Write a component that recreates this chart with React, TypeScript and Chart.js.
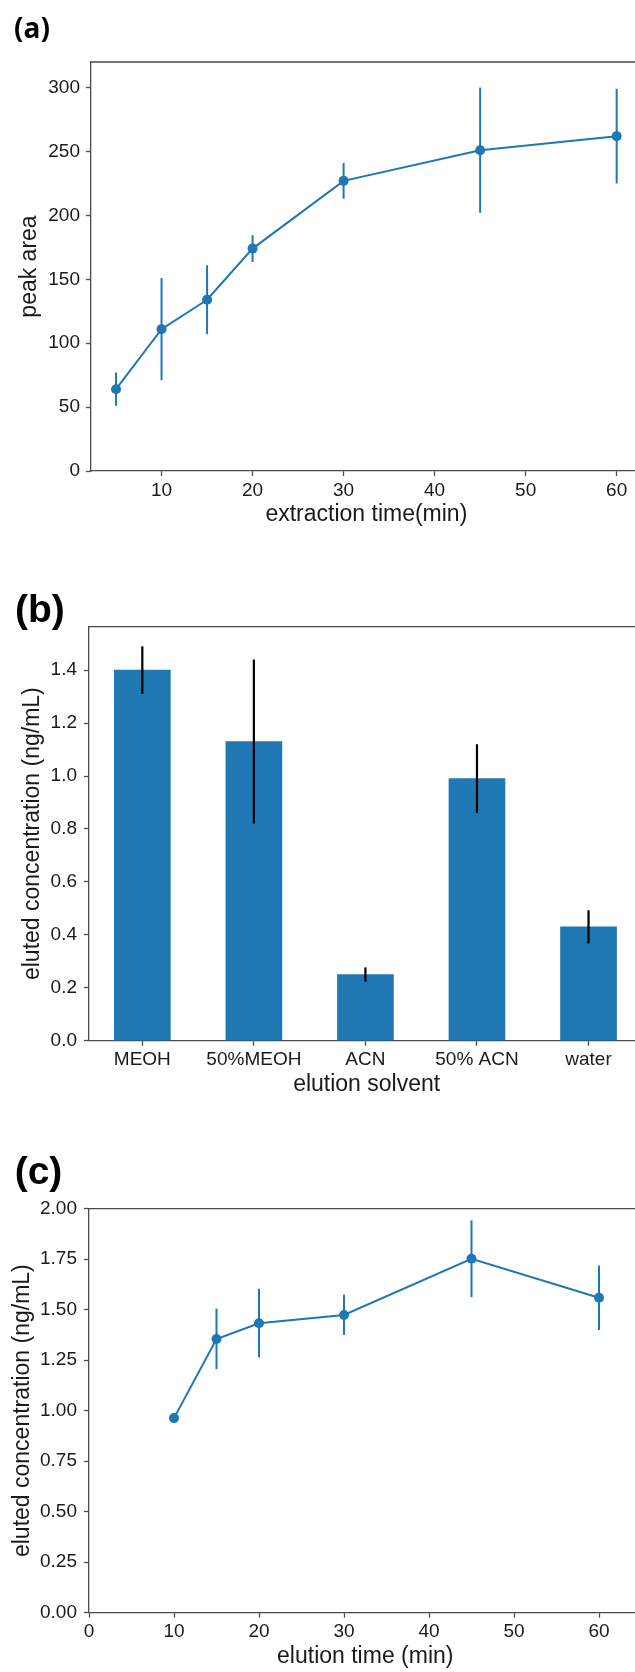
import React, { useEffect, useRef } from "react";
import { Chart, registerables } from "chart.js";

Chart.register(...registerables);

// ---------- data ----------
const extractionTime = [5, 10, 15, 20, 30, 45, 60];
const peakArea = [64, 111, 134, 174, 227, 251, 262];
const peakAreaErr = [13, 40, 27, 10.5, 14, 49, 37];

const solvents = ["MEOH", "50%MEOH", "ACN", "50% ACN", "water"];
const solventConc = [1.4, 1.13, 0.25, 0.99, 0.43];
const solventConcErr = [0.09, 0.31, 0.027, 0.13, 0.063];

const elutionTime = [10, 15, 20, 30, 45, 60];
const elutionConc = [0.963, 1.355, 1.433, 1.474, 1.752, 1.559];
const elutionConcErr = [0, 0.15, 0.17, 0.1, 0.19, 0.16];

const ticksAX = [10, 20, 30, 40, 50, 60];
const ticksAY = [0, 50, 100, 150, 200, 250, 300];
const ticksBY = [0, 0.2, 0.4, 0.6, 0.8, 1.0, 1.2, 1.4];
const ticksCX = [0, 10, 20, 30, 40, 50, 60];
const ticksCY = [0, 0.25, 0.5, 0.75, 1.0, 1.25, 1.5, 1.75, 2.0];

// ---------- style ----------
const BLUE = "#1f77b4";
const SPINE = "#4a4a4a";
const TXT = "#1a1a1a";
const FONT = "'Liberation Sans', Arial, sans-serif";
const CANVAS_W = 660;

const framePlugin = {
  id: "frame",
  afterDraw(chart: any) {
    const { ctx, chartArea } = chart;
    ctx.save();
    ctx.strokeStyle = SPINE;
    ctx.lineWidth = 1.3;
    ctx.beginPath();
    ctx.moveTo(chartArea.left, chartArea.top);
    ctx.lineTo(chartArea.right, chartArea.top);
    ctx.lineTo(chartArea.right, chartArea.bottom);
    ctx.stroke();
    ctx.restore();
  },
};

const errorBarPlugin = {
  id: "errorBars",
  afterDatasetsDraw(chart: any, _args: any, opts: any) {
    if (!opts || !opts.errors) return;
    const { ctx } = chart;
    const xs = chart.scales.x;
    const ys = chart.scales.y;
    const xv: number[] = opts.xValues;
    const yv: number[] = opts.yValues;
    const ev: number[] = opts.errors;
    ctx.save();
    ctx.strokeStyle = opts.color;
    ctx.lineWidth = opts.width;
    for (let i = 0; i < xv.length; i++) {
      if (!ev[i]) continue;
      const px = xs.getPixelForValue(xv[i]);
      const top = ys.getPixelForValue(yv[i] + ev[i]);
      const bot = ys.getPixelForValue(yv[i] - ev[i]);
      ctx.beginPath();
      ctx.moveTo(px, top);
      ctx.lineTo(px, bot);
      ctx.stroke();
    }
    ctx.restore();
  },
};

function xAxis(
  min: number,
  max: number,
  ticks: number[],
  title: string,
  fmt: (v: number) => string,
  titlePadBottom: number
) {
  return {
    type: "linear",
    position: "bottom",
    min,
    max,
    offset: false,
    afterBuildTicks: (s: any) => {
      s.ticks = ticks.map((v) => ({ value: v }));
    },
    afterFit: (s: any) => {
      s.height = 58;
    },
    grid: {
      offset: false,
      drawOnChartArea: false,
      drawTicks: true,
      tickLength: 5,
      tickColor: SPINE,
      tickWidth: 1.3,
    },
    border: { display: true, color: SPINE, width: 1.3 },
    ticks: {
      padding: 3,
      color: TXT,
      font: { family: FONT, size: 19 },
      maxRotation: 0,
      autoSkip: false,
      callback: (v: any) => fmt(Number(v)),
    },
    title: {
      display: true,
      text: title,
      color: TXT,
      font: { family: FONT, size: 23 },
      padding: { top: 0, bottom: titlePadBottom },
    },
  };
}

function yAxis(
  min: number,
  max: number,
  ticks: number[],
  title: string,
  fmt: (v: number) => string,
  width: number,
  titleCenter: number,
  tickPad: number
) {
  return {
    type: "linear",
    position: "left",
    min,
    max,
    afterBuildTicks: (s: any) => {
      s.ticks = ticks.map((v) => ({ value: v }));
    },
    afterFit: (s: any) => {
      s.width = width;
    },
    grid: {
      offset: false,
      drawOnChartArea: false,
      drawTicks: true,
      tickLength: 5,
      tickColor: SPINE,
      tickWidth: 1.3,
    },
    border: { display: true, color: SPINE, width: 1.3 },
    ticks: {
      padding: tickPad,
      color: TXT,
      font: { family: FONT, size: 19 },
      autoSkip: false,
      callback: (v: any) => fmt(Number(v)),
    },
    title: {
      display: true,
      text: title,
      color: TXT,
      font: { family: FONT, size: 23 },
      padding: { top: titleCenter - 13.8, bottom: 0 },
    },
  };
}

function useChart(ref: React.RefObject<HTMLCanvasElement>, make: () => any) {
  useEffect(() => {
    if (!ref.current) return;
    const chart = new Chart(ref.current, make());
    return () => chart.destroy();
  }, []);
}

const commonPlugins = {
  legend: { display: false },
  tooltip: { enabled: false },
};

export default function App() {
  const refA = useRef<HTMLCanvasElement>(null);
  const refB = useRef<HTMLCanvasElement>(null);
  const refC = useRef<HTMLCanvasElement>(null);

  useEffect(() => {
    document.body.style.margin = "0";
    document.body.style.overflow = "hidden";
  }, []);

  useChart(refA, () => ({
    type: "line",
    data: {
      datasets: [
        {
          data: extractionTime.map((x, i) => ({ x, y: peakArea[i] })),
          borderColor: BLUE,
          backgroundColor: BLUE,
          borderWidth: 2,
          pointRadius: 5,
          pointBorderWidth: 0,
          pointBackgroundColor: BLUE,
          tension: 0,
        },
      ],
    },
    options: {
      responsive: false,
      animation: false,
      layout: { padding: { top: 62, left: 0, right: CANVAS_W - 641.7, bottom: 540 - 471 - 58 } },
      scales: {
        x: xAxis(2.25, 62.75, ticksAX, "extraction time(min)", (v) => String(v), 0.2),
        y: yAxis(0, 320, ticksAY, "peak area", (v) => String(v), 91, 30, 6),
      },
      plugins: {
        ...commonPlugins,
        errorBars: { xValues: extractionTime, yValues: peakArea, errors: peakAreaErr, color: BLUE, width: 2 },
      },
    },
    plugins: [framePlugin, errorBarPlugin],
  }));

  useChart(refB, () => ({
    type: "bar",
    data: {
      datasets: [
        {
          data: solvents.map((_, i) => ({ x: i, y: solventConc[i] })),
          backgroundColor: BLUE,
          borderWidth: 0,
          barThickness: 56,
        },
      ],
    },
    options: {
      responsive: false,
      animation: false,
      layout: { padding: { top: 626.6 - 540, left: 0, right: CANVAS_W - 644.3, bottom: 565 - 500.7 - 58 } },
      scales: {
        x: xAxis(-0.478, 4.5, solvents.map((_, i) => i), "elution solvent", (v) => solvents[v] ?? "", 0),
        y: yAxis(0, 1.5645, ticksBY, "eluted concentration (ng/mL)", (v) => v.toFixed(1), 89, 32.4, 7),
      },
      plugins: {
        ...commonPlugins,
        errorBars: {
          xValues: solvents.map((_, i) => i),
          yValues: solventConc,
          errors: solventConcErr,
          color: "#000000",
          width: 2.2,
        },
      },
    },
    plugins: [framePlugin, errorBarPlugin],
  }));

  useChart(refC, () => ({
    type: "line",
    data: {
      datasets: [
        {
          data: elutionTime.map((x, i) => ({ x, y: elutionConc[i] })),
          borderColor: BLUE,
          backgroundColor: BLUE,
          borderWidth: 2,
          pointRadius: 5,
          pointBorderWidth: 0,
          pointBackgroundColor: BLUE,
          tension: 0,
        },
      ],
    },
    options: {
      responsive: false,
      animation: false,
      layout: { padding: { top: 1208.7 - 1105, left: 0, right: CANVAS_W - 641.5, bottom: 567 - 507.6 - 58 } },
      scales: {
        x: xAxis(0, 65, ticksCX, "elution time (min)", (v) => String(v), 0.4),
        y: yAxis(0, 2, ticksCY, "eluted concentration (ng/mL)", (v) => v.toFixed(2), 89, 22.3, 7),
      },
      plugins: {
        ...commonPlugins,
        errorBars: { xValues: elutionTime, yValues: elutionConc, errors: elutionConcErr, color: BLUE, width: 2 },
      },
    },
    plugins: [framePlugin, errorBarPlugin],
  }));

  const canvasStyle = (top: number, h: number): React.CSSProperties => ({
    position: "absolute",
    left: 0,
    top,
    width: CANVAS_W,
    height: h,
  });

  const labelStyle = (left: number, top: number, size: number, family: string): React.CSSProperties => ({
    position: "absolute",
    left,
    top,
    fontFamily: family,
    fontWeight: 700,
    fontSize: size,
    lineHeight: 1,
    color: "#000",
    whiteSpace: "nowrap",
  });

  return (
    <div
      style={{
        position: "relative",
        width: 635,
        height: 1672,
        overflow: "hidden",
        background: "#ffffff",
      }}
    >
      <canvas ref={refA} width={CANVAS_W} height={540} style={canvasStyle(0, 540)} />
      <canvas ref={refB} width={CANVAS_W} height={565} style={canvasStyle(540, 565)} />
      <canvas ref={refC} width={CANVAS_W} height={567} style={canvasStyle(1105, 567)} />
      <div style={labelStyle(14, 13.4, 28, "'Open Sans', sans-serif")}>(a)</div>
      <div style={labelStyle(15, 589.4, 39, FONT)}>(b)</div>
      <div style={labelStyle(14.7, 1150.5, 39, FONT)}>(c)</div>
    </div>
  );
}
